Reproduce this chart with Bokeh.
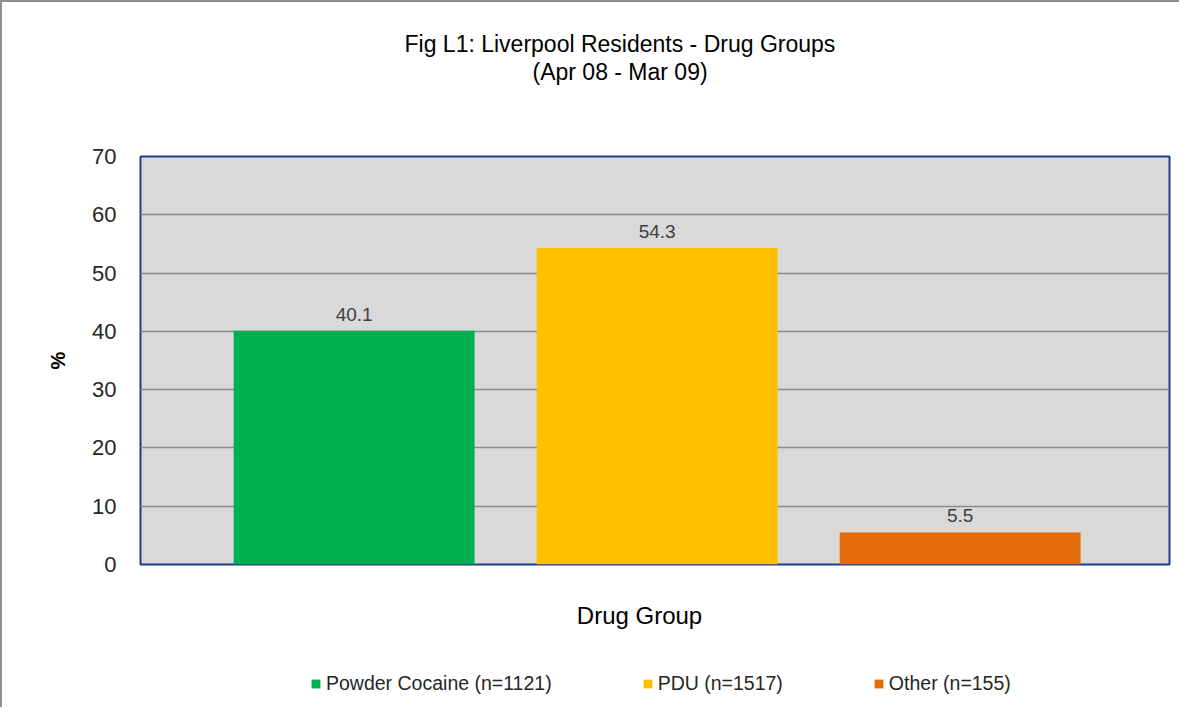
from bokeh.plotting import figure
from bokeh.layouts import column
from bokeh.models import (Range1d, Legend, LegendItem, ColumnDataSource, FixedTicker, Title,
                          Label, LabelSet)
from bokeh.core.properties import value
from bokeh.embed import file_html
from bokeh.resources import INLINE

# ---- data ----
groups = ["Powder Cocaine (n=1121)", "PDU (n=1517)", "Other (n=155)"]
percent = [40.1, 54.3, 5.5]
colors = ["#00b050", "#ffc000", "#e46c0a"]
y_ticks = [0, 10, 20, 30, 40, 50, 60, 70]
title_lines = ["Fig L1: Liverpool  Residents - Drug Groups", "(Apr 08 - Mar 09)"]
x_title = "Drug Group"
y_title = "%"

FONT = "Liberation Sans"
W = 1179
H1, H2 = 580, 127
FL, FT = 138, 154          # frame left / top inside the main canvas
FW, FH = 1029, 408         # frame size

xs = list(range(len(groups)))
src = ColumnDataSource(dict(x=xs, top=percent, color=colors, label=groups,
                            txt=[f"{v:.1f}" for v in percent]))

# ---------------- main chart ----------------
p = figure(width=W, height=H1, output_backend="svg", toolbar_location=None,
           x_range=Range1d(-0.705, 2.691), y_range=Range1d(0, 70),
           x_axis_location=None,
           min_border_left=FL, min_border_top=FT,
           min_border_right=W - FL - FW, min_border_bottom=H1 - FT - FH)
p.title = None
p.styles = {"border-left": "2px solid #8f8f8f", "border-top": "2px solid #8f8f8f"}

p.background_fill_color = "#d9d9d9"
p.border_fill_color = "white"
p.outline_line_color = "#1f3c88"
p.outline_line_width = 2

p.vbar(x="x", top="top", width=0.795, color="color", source=src, line_color=None)
p.add_layout(LabelSet(x="x", y="top", text="txt", source=src, text_align="center",
                      text_baseline="alphabetic", y_offset=10, text_font=value(FONT),
                      text_font_size=value("19px"), text_color=value("#404040")))

p.xgrid.visible = False
p.ygrid.ticker = FixedTicker(ticks=y_ticks)
p.ygrid.grid_line_color = "#8c8c8c"
p.ygrid.grid_line_width = 1.5

p.yaxis.ticker = FixedTicker(ticks=y_ticks)
p.yaxis.axis_line_color = None
p.yaxis.major_tick_line_color = None
p.yaxis.minor_tick_line_color = None
p.yaxis.major_label_standoff = 18
p.yaxis.major_label_text_font = FONT
p.yaxis.major_label_text_font_size = "22px"
p.yaxis.major_label_text_color = "#262626"
p.yaxis.axis_label = y_title
p.yaxis.axis_label_text_font = FONT
p.yaxis.axis_label_text_font_size = "20px"
p.yaxis.axis_label_text_font_style = "bold"
p.yaxis.axis_label_text_color = "#000000"
p.yaxis.axis_label_standoff = 20

# titles (added nearest-to-frame first); first one is an empty spacer
p.add_layout(Title(text=" ", standoff=59, text_font=FONT, text_font_size="10px"), "above")
p.add_layout(Title(text=title_lines[1], align="left", offset=392, standoff=0,
                   text_font=FONT, text_font_size="23px", text_font_style="normal",
                   text_color="#000000"), "above")
p.add_layout(Title(text=title_lines[0], align="left", offset=264, standoff=0,
                   text_font=FONT, text_font_size="23px", text_font_style="normal",
                   text_color="#000000"), "above")

# ---------------- x title + legend strip ----------------
q = figure(width=W, height=H2, output_backend="svg", toolbar_location=None,
           x_range=Range1d(-0.705, 2.691), y_range=Range1d(-200, -100),
           x_axis_location=None, y_axis_location=None,
           min_border_left=0, min_border_right=0, min_border_top=0, min_border_bottom=0)
q.title = None
q.styles = {"border-left": "2px solid #8f8f8f"}
q.outline_line_color = None
q.grid.visible = False
q.background_fill_color = "white"
q.border_fill_color = "white"

# legend proxies (hidden renderers, same data and colours)
proxy = q.vbar(x="x", top="top", width=0.795, color="color", source=src, line_color=None,
               visible=False)

# this strip's frame is aligned with the main frame (starts at x=138 of the canvas)
q.add_layout(Label(x=499, y=92, x_units="screen", y_units="screen", text=x_title,
                   text_align="center", text_baseline="middle", text_font=FONT,
                   text_font_size="24px", text_color="#000000"))

items = [LegendItem(label=g, renderers=[proxy], index=i) for i, g in enumerate(groups)]
leg = Legend(items=items, orientation="horizontal", location=(170, 12),
             padding=0, margin=0, spacing=90, glyph_width=11, glyph_height=11,
             label_standoff=5, label_text_font=FONT, label_text_font_size="19.5px",
             label_text_color="#262626", border_line_color=None, background_fill_alpha=0,
             click_policy="none")
q.add_layout(leg, "center")

layout = column(p, q, spacing=0)
open("out.html", "w").write(file_html(layout, INLINE))
